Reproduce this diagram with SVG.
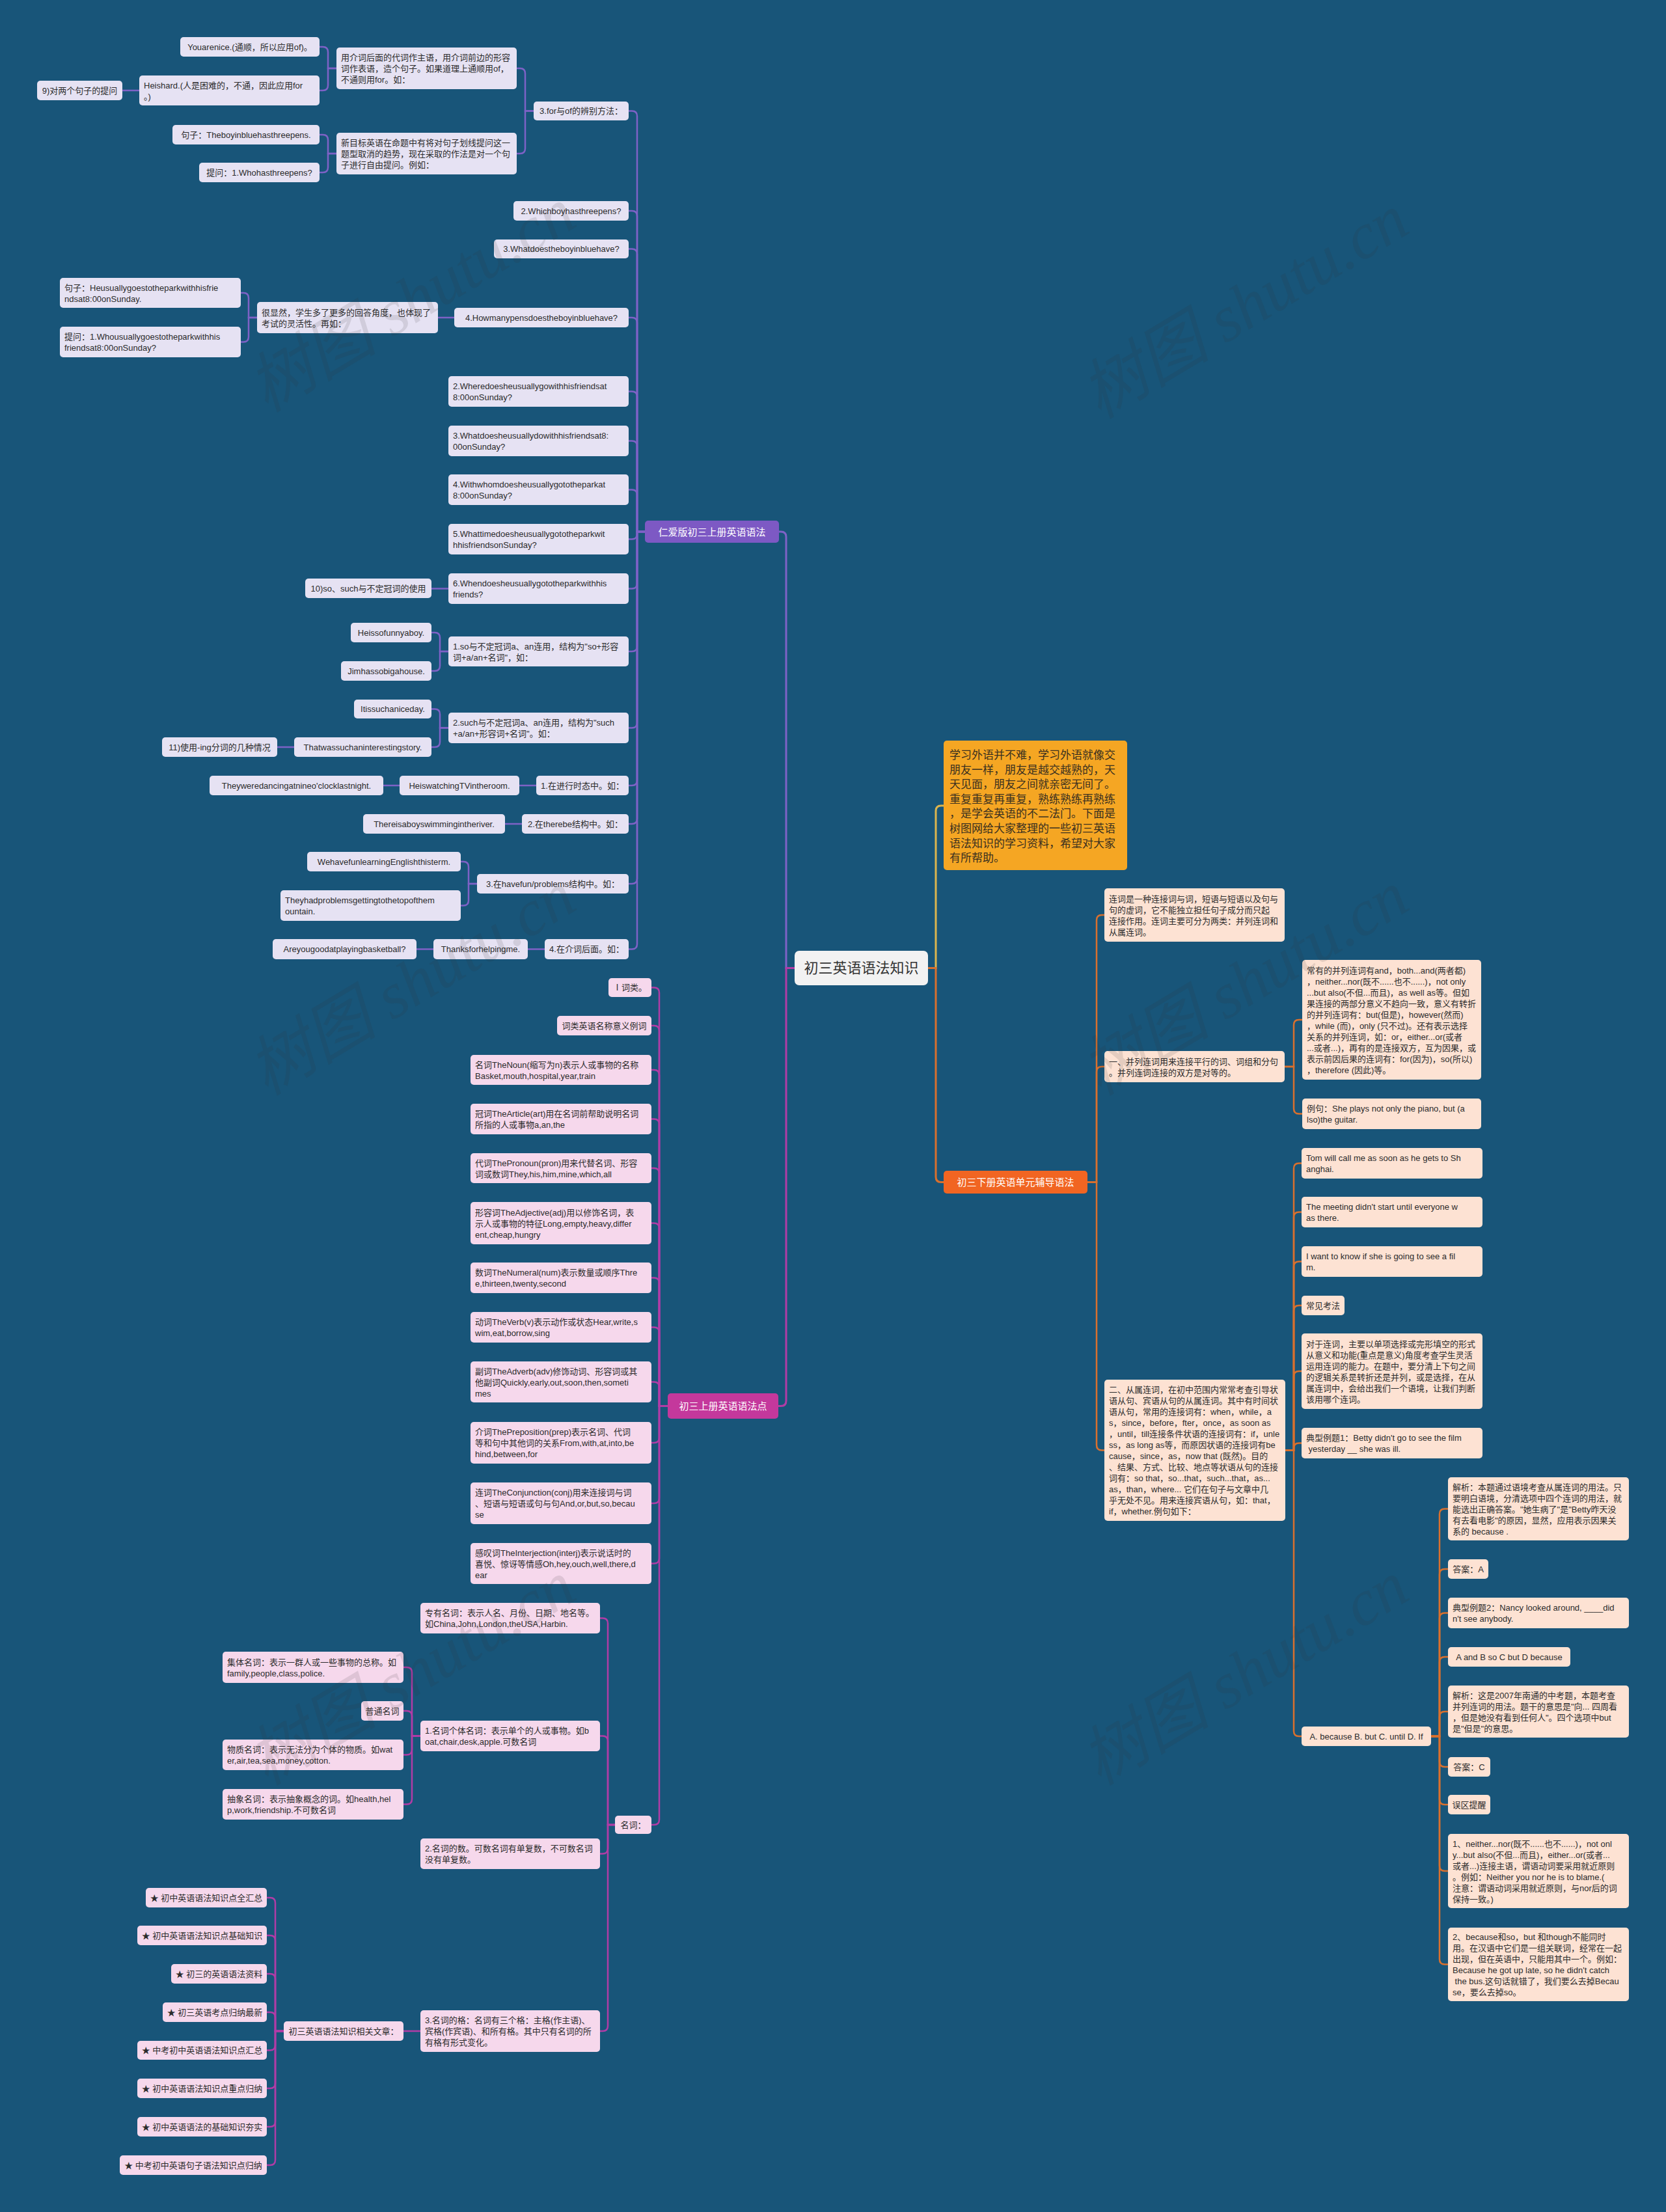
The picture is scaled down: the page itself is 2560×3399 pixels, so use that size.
<svg xmlns="http://www.w3.org/2000/svg" width="2560" height="3399" viewBox="0 0 2560 3399">
<style>
.t{font-family:"Liberation Sans","Noto Sans CJK SC",sans-serif;font-size:13px;fill:#2b2b2b;dominant-baseline:central}
.c{text-anchor:middle}
.pc{fill:#e6e2f3}
.mc{fill:#f6d8ec}
.oc{fill:#fde2d3}
.cp{stroke:#7e62c6;stroke-width:2.5;fill:none}
.cm{stroke:#b13ca6;stroke-width:2.5;fill:none}
.co{stroke:#d9702e;stroke-width:2.5;fill:none}
.cy{stroke:#dcb54e;stroke-width:3;fill:none}
.big{font-size:15px;fill:#ffffff}
.wm{font-family:"Liberation Serif","Noto Sans CJK SC",serif;font-size:100px;font-style:italic;fill:#333333;fill-opacity:0.12}
</style>
<rect width="2560" height="3399" fill="#185579"/>

<g id="connectors">
<g id="c-root">
<path class="cp" style="stroke-width:3" d="M1221 1487.5 H1208 V825 Q1208 817 1200 817 H1197"/>
<path class="cm" style="stroke-width:3" d="M1221 1487.5 H1208 V2152.5 Q1208 2160.5 1200 2160.5 H1196"/>
<path class="cy" d="M1426 1487.5 H1438 V1246 Q1438 1238 1446 1238 H1450"/>
<path class="co" style="stroke-width:3" d="M1426 1487.5 H1438 V1808.5 Q1438 1816.5 1446 1816.5 H1450"/>
</g>
<g id="c-purple">
<path class="cp" d="M991 817 H979 V178.5 Q979 170.5 971 170.5 H966"/>
<path class="cp" d="M991 817 H979 V332 Q979 324 971 324 H966"/>
<path class="cp" d="M991 817 H979 V390.5 Q979 382.5 971 382.5 H966"/>
<path class="cp" d="M991 817 H979 V496 Q979 488 971 488 H966"/>
<path class="cp" d="M991 817 H979 V609.5 Q979 601.5 971 601.5 H966"/>
<path class="cp" d="M991 817 H979 V685.5 Q979 677.5 971 677.5 H966"/>
<path class="cp" d="M991 817 H979 V760.5 Q979 752.5 971 752.5 H966"/>
<path class="cp" d="M991 817 H979 V820.5 Q979 828.5 971 828.5 H966"/>
<path class="cp" d="M991 817 H979 V896.5 Q979 904.5 971 904.5 H966"/>
<path class="cp" d="M991 817 H979 V993 Q979 1001 971 1001 H966"/>
<path class="cp" d="M991 817 H979 V1110.5 Q979 1118.5 971 1118.5 H966"/>
<path class="cp" d="M991 817 H979 V1199 Q979 1207 971 1207 H966"/>
<path class="cp" d="M991 817 H979 V1258 Q979 1266 971 1266 H966"/>
<path class="cp" d="M991 817 H979 V1350 Q979 1358 971 1358 H966"/>
<path class="cp" d="M991 817 H979 V1450.5 Q979 1458.5 971 1458.5 H966"/>
<path class="cp" d="M820 170.5 H807 V113 Q807 105 799 105 H794"/>
<path class="cp" d="M820 170.5 H807 V228 Q807 236 799 236 H794"/>
<path class="cp" d="M517 105 H504 V80 Q504 72 496 72 H491"/>
<path class="cp" d="M517 105 H504 V131 Q504 139 496 139 H491"/>
<path class="cp" d="M214 139 H188"/>
<path class="cp" d="M517 236 H504 V215 Q504 207 496 207 H491"/>
<path class="cp" d="M517 236 H504 V257 Q504 265 496 265 H491"/>
<path class="cp" d="M698 488 H673"/>
<path class="cp" d="M395 488 H382 V458 Q382 450 374 450 H370"/>
<path class="cp" d="M395 488 H382 V517.5 Q382 525.5 374 525.5 H370"/>
<path class="cp" d="M689 904.5 H663"/>
<path class="cp" d="M689 1001 H676 V980 Q676 972 668 972 H663"/>
<path class="cp" d="M689 1001 H676 V1023 Q676 1031 668 1031 H663"/>
<path class="cp" d="M689 1118.5 H676 V1097.5 Q676 1089.5 668 1089.5 H663"/>
<path class="cp" d="M689 1118.5 H676 V1140 Q676 1148 668 1148 H663"/>
<path class="cp" d="M452 1148 H426"/>
<path class="cp" d="M824 1207 H798"/>
<path class="cp" d="M614 1207 H589"/>
<path class="cp" d="M802 1266 H776"/>
<path class="cp" d="M733 1358 H720 V1332 Q720 1324 712 1324 H708"/>
<path class="cp" d="M733 1358 H720 V1383.5 Q720 1391.5 712 1391.5 H708"/>
<path class="cp" d="M837 1458.5 H811"/>
<path class="cp" d="M666 1458.5 H640"/>
</g>
<g id="c-magenta">
<path class="cm" d="M1026 2160.5 H1013 V1525.5 Q1013 1517.5 1005 1517.5 H1001"/>
<path class="cm" d="M1026 2160.5 H1013 V1584 Q1013 1576 1005 1576 H1001"/>
<path class="cm" d="M1026 2160.5 H1013 V1652 Q1013 1644 1005 1644 H1001"/>
<path class="cm" d="M1026 2160.5 H1013 V1727.5 Q1013 1719.5 1005 1719.5 H1001"/>
<path class="cm" d="M1026 2160.5 H1013 V1803 Q1013 1795 1005 1795 H1001"/>
<path class="cm" d="M1026 2160.5 H1013 V1887.5 Q1013 1879.5 1005 1879.5 H1001"/>
<path class="cm" d="M1026 2160.5 H1013 V1971.5 Q1013 1963.5 1005 1963.5 H1001"/>
<path class="cm" d="M1026 2160.5 H1013 V2047.5 Q1013 2039.5 1005 2039.5 H1001"/>
<path class="cm" d="M1026 2160.5 H1013 V2131.5 Q1013 2123.5 1005 2123.5 H1001"/>
<path class="cm" d="M1026 2160.5 H1013 V2209 Q1013 2217 1005 2217 H1001"/>
<path class="cm" d="M1026 2160.5 H1013 V2302 Q1013 2310 1005 2310 H1001"/>
<path class="cm" d="M1026 2160.5 H1013 V2394.5 Q1013 2402.5 1005 2402.5 H1001"/>
<path class="cm" d="M1026 2160.5 H1013 V2796 Q1013 2804 1005 2804 H1001"/>
<path class="cm" d="M945 2804 H934 V2494.5 Q934 2486.5 926 2486.5 H922"/>
<path class="cm" d="M945 2804 H934 V2675.5 Q934 2667.5 926 2667.5 H922"/>
<path class="cm" d="M945 2804 H934 V2840.5 Q934 2848.5 926 2848.5 H922"/>
<path class="cm" d="M945 2804 H934 V3113 Q934 3121 926 3121 H922"/>
<path class="cm" d="M646 2667.5 H633 V2570 Q633 2562 625 2562 H620"/>
<path class="cm" d="M646 2667.5 H633 V2637 Q633 2629 625 2629 H620"/>
<path class="cm" d="M646 2667.5 H633 V2688.5 Q633 2696.5 625 2696.5 H620"/>
<path class="cm" d="M646 2667.5 H633 V2764.5 Q633 2772.5 625 2772.5 H620"/>
<path class="cm" d="M646 3121 H620"/>
<path class="cm" d="M436 3121 H423 V2924 Q423 2916 415 2916 H410"/>
<path class="cm" d="M436 3121 H423 V2982 Q423 2974 415 2974 H410"/>
<path class="cm" d="M436 3121 H423 V3041 Q423 3033 415 3033 H410"/>
<path class="cm" d="M436 3121 H423 V3100 Q423 3092 415 3092 H410"/>
<path class="cm" d="M436 3121 H423 V3142.5 Q423 3150.5 415 3150.5 H410"/>
<path class="cm" d="M436 3121 H423 V3201 Q423 3209 415 3209 H410"/>
<path class="cm" d="M436 3121 H423 V3260 Q423 3268 415 3268 H410"/>
<path class="cm" d="M436 3121 H423 V3319 Q423 3327 415 3327 H410"/>
</g>
<g id="c-orange">
<path class="co" d="M1671 1816.5 H1685 V1414 Q1685 1406 1693 1406 H1697"/>
<path class="co" d="M1671 1816.5 H1685 V1647 Q1685 1639 1693 1639 H1697"/>
<path class="co" d="M1671 1816.5 H1685 V2220.5 Q1685 2228.5 1693 2228.5 H1697"/>
<path class="co" d="M1974 1639 H1988 V1575 Q1988 1567 1996 1567 H2001"/>
<path class="co" d="M1974 1639 H1988 V1703.5 Q1988 1711.5 1996 1711.5 H2001"/>
<path class="co" d="M1975 2228.5 H1988 V1795.5 Q1988 1787.5 1996 1787.5 H2000"/>
<path class="co" d="M1975 2228.5 H1988 V1870.5 Q1988 1862.5 1996 1862.5 H2000"/>
<path class="co" d="M1975 2228.5 H1988 V1946.5 Q1988 1938.5 1996 1938.5 H2000"/>
<path class="co" d="M1975 2228.5 H1988 V2014 Q1988 2006 1996 2006 H2000"/>
<path class="co" d="M1975 2228.5 H1988 V2115 Q1988 2107 1996 2107 H2000"/>
<path class="co" d="M1975 2228.5 H1988 V2225.5 Q1988 2217.5 1996 2217.5 H2000"/>
<path class="co" d="M1975 2228.5 H1988 V2660 Q1988 2668 1996 2668 H2000"/>
<path class="co" d="M2199 2668 H2212 V2326.5 Q2212 2318.5 2220 2318.5 H2225"/>
<path class="co" d="M2199 2668 H2212 V2419 Q2212 2411 2220 2411 H2225"/>
<path class="co" d="M2199 2668 H2212 V2486.5 Q2212 2478.5 2220 2478.5 H2225"/>
<path class="co" d="M2199 2668 H2212 V2554 Q2212 2546 2220 2546 H2225"/>
<path class="co" d="M2199 2668 H2212 V2638 Q2212 2630 2220 2630 H2225"/>
<path class="co" d="M2199 2668 H2212 V2707 Q2212 2715 2220 2715 H2225"/>
<path class="co" d="M2199 2668 H2212 V2765 Q2212 2773 2220 2773 H2225"/>
<path class="co" d="M2199 2668 H2212 V2867 Q2212 2875 2220 2875 H2225"/>
<path class="co" d="M2199 2668 H2212 V3010.5 Q2212 3018.5 2220 3018.5 H2225"/>
</g>
</g>

<g id="root"><rect x="1221" y="1461" width="205" height="53" rx="7" fill="#f2f2f2"/><text class="t c" x="1323.5" y="1487.5" style="font-size:22px;fill:#333">初三英语语法知识</text></g>

<g id="intro"><rect x="1450" y="1138" width="282" height="199" rx="5" fill="#f5a623"/>
<text class="t" style="font-size:17px;fill:#3a3020"><tspan x="1459" y="1160">学习外语并不难，学习外语就像交</tspan><tspan x="1459" y="1182.6">朋友一样，朋友是越交越熟的，天</tspan><tspan x="1459" y="1205.2">天见面，朋友之间就亲密无间了。</tspan><tspan x="1459" y="1227.8">重复重复再重复，熟练熟练再熟练</tspan><tspan x="1459" y="1250.4">，是学会英语的不二法门。下面是</tspan><tspan x="1459" y="1273">树图网给大家整理的一些初三英语</tspan><tspan x="1459" y="1295.6">语法知识的学习资料，希望对大家</tspan><tspan x="1459" y="1318.2">有所帮助。</tspan></text></g>

<g id="b-purple"><rect x="991" y="800" width="206" height="34" rx="5" fill="#7d59c4"/><text class="t c big" x="1094" y="817">仁爱版初三上册英语语法</text></g>
<g id="b-magenta"><rect x="1026" y="2141" width="170" height="39" rx="5" fill="#c4389c"/><text class="t c big" x="1111" y="2160.5">初三上册英语语法点</text></g>
<g id="b-orange"><rect x="1450" y="1799" width="221" height="35" rx="5" fill="#f16522"/><text class="t c big" x="1560.5" y="1816.5">初三下册英语单元辅导语法</text></g>

<g id="purple-nodes">
<g id="p1"><rect class="pc" x="820" y="156" width="146" height="29" rx="5"/><text class="t c" x="893" y="170.5">3.for与of的辨别方法：</text></g>
<g id="p2"><rect class="pc" x="789" y="309" width="177" height="30" rx="5"/><text class="t c" x="877.5" y="324">2.Whichboyhasthreepens?</text></g>
<g id="p3"><rect class="pc" x="759" y="368" width="207" height="29" rx="5"/><text class="t c" x="862.5" y="382.5">3.Whatdoestheboyinbluehave?</text></g>
<g id="p4"><rect class="pc" x="698" y="473" width="268" height="30" rx="5"/><text class="t c" x="832" y="488">4.Howmanypensdoestheboyinbluehave?</text></g>
<g id="p5"><rect class="pc" x="689" y="578" width="277" height="47" rx="5"/><text class="t"><tspan x="696" y="593">2.Wheredoesheusuallygowithhisfriendsat</tspan><tspan x="696" y="610">8:00onSunday?</tspan></text></g>
<g id="p6"><rect class="pc" x="689" y="654" width="277" height="47" rx="5"/><text class="t"><tspan x="696" y="669">3.Whatdoesheusuallydowithhisfriendsat8:</tspan><tspan x="696" y="686">00onSunday?</tspan></text></g>
<g id="p7"><rect class="pc" x="689" y="729" width="277" height="47" rx="5"/><text class="t"><tspan x="696" y="744">4.Withwhomdoesheusuallygototheparkat</tspan><tspan x="696" y="761">8:00onSunday?</tspan></text></g>
<g id="p8"><rect class="pc" x="689" y="805" width="277" height="47" rx="5"/><text class="t"><tspan x="696" y="820">5.Whattimedoesheusuallygototheparkwit</tspan><tspan x="696" y="837">hhisfriendsonSunday?</tspan></text></g>
<g id="p9"><rect class="pc" x="689" y="881" width="277" height="47" rx="5"/><text class="t"><tspan x="696" y="896">6.Whendoesheusuallygototheparkwithhis</tspan><tspan x="696" y="913">friends?</tspan></text></g>
<g id="p10"><rect class="pc" x="689" y="978" width="277" height="46" rx="5"/><text class="t"><tspan x="696" y="992.5">1.so与不定冠词a、an连用，结构为"so+形容</tspan><tspan x="696" y="1009.5">词+a/an+名词"，如：</tspan></text></g>
<g id="p11"><rect class="pc" x="689" y="1095" width="277" height="47" rx="5"/><text class="t"><tspan x="696" y="1110">2.such与不定冠词a、an连用，结构为"such</tspan><tspan x="696" y="1127">+a/an+形容词+名词"。如：</tspan></text></g>
<g id="p12"><rect class="pc" x="824" y="1192" width="142" height="30" rx="5"/><text class="t c" x="895" y="1207">1.在进行时态中。如：</text></g>
<g id="p13"><rect class="pc" x="802" y="1251" width="164" height="30" rx="5"/><text class="t c" x="884" y="1266">2.在therebe结构中。如：</text></g>
<g id="p14"><rect class="pc" x="733" y="1343" width="233" height="30" rx="5"/><text class="t c" x="849.5" y="1358">3.在havefun/problems结构中。如：</text></g>
<g id="p15"><rect class="pc" x="837" y="1443" width="129" height="31" rx="5"/><text class="t c" x="901.5" y="1458.5">4.在介词后面。如：</text></g>
<g id="pa"><rect class="pc" x="517" y="73" width="277" height="64" rx="5"/><text class="t"><tspan x="524" y="88">用介词后面的代词作主语，用介词前边的形容</tspan><tspan x="524" y="105">词作表语，造个句子。如果道理上通顺用of，</tspan><tspan x="524" y="122">不通则用for。如：</tspan></text></g>
<g id="pb"><rect class="pc" x="517" y="204" width="277" height="64" rx="5"/><text class="t"><tspan x="524" y="219">新目标英语在命题中有将对句子划线提问这一</tspan><tspan x="524" y="236">题型取消的趋势，现在采取的作法是对一个句</tspan><tspan x="524" y="253">子进行自由提问。例如：</tspan></text></g>
<g id="pc1"><rect class="pc" x="277" y="57" width="214" height="30" rx="5"/><text class="t c" x="384" y="72">Youarenice.(通顺，所以应用of)。</text></g>
<g id="pd"><rect class="pc" x="214" y="116" width="277" height="46" rx="5"/><text class="t"><tspan x="221" y="130.5">Heishard.(人是困难的，不通，因此应用for</tspan><tspan x="221" y="147.5">。)</tspan></text></g>
<g id="pe"><rect class="pc" x="57" y="124" width="131" height="30" rx="5"/><text class="t c" x="122.5" y="139">9)对两个句子的提问</text></g>
<g id="pf"><rect class="pc" x="265" y="192" width="226" height="30" rx="5"/><text class="t c" x="378" y="207">句子：Theboyinbluehasthreepens.</text></g>
<g id="pg"><rect class="pc" x="306" y="250" width="185" height="30" rx="5"/><text class="t c" x="398.5" y="265">提问：1.Whohasthreepens?</text></g>
<g id="ph"><rect class="pc" x="395" y="464" width="278" height="48" rx="5"/><text class="t"><tspan x="402" y="479.5">很显然，学生多了更多的回答角度，也体现了</tspan><tspan x="402" y="496.5">考试的灵活性。再如：</tspan></text></g>
<g id="pi"><rect class="pc" x="92" y="427" width="278" height="46" rx="5"/><text class="t"><tspan x="99" y="441.5">句子：Heusuallygoestotheparkwithhisfrie</tspan><tspan x="99" y="458.5">ndsat8:00onSunday.</tspan></text></g>
<g id="pj"><rect class="pc" x="92" y="502" width="278" height="47" rx="5"/><text class="t"><tspan x="99" y="517">提问：1.Whousuallygoestotheparkwithhis</tspan><tspan x="99" y="534">friendsat8:00onSunday?</tspan></text></g>
<g id="pk"><rect class="pc" x="469" y="889" width="194" height="30" rx="5"/><text class="t c" x="566" y="904">10)so、such与不定冠词的使用</text></g>
<g id="pl"><rect class="pc" x="539" y="957" width="124" height="30" rx="5"/><text class="t c" x="601" y="972">Heissofunnyaboy.</text></g>
<g id="pm"><rect class="pc" x="524" y="1016" width="139" height="30" rx="5"/><text class="t c" x="593.5" y="1031">Jimhassobigahouse.</text></g>
<g id="pn"><rect class="pc" x="544" y="1075" width="119" height="29" rx="5"/><text class="t c" x="603.5" y="1089.5">Itissuchaniceday.</text></g>
<g id="po"><rect class="pc" x="452" y="1133" width="211" height="30" rx="5"/><text class="t c" x="557.5" y="1148">Thatwassuchaninterestingstory.</text></g>
<g id="pp"><rect class="pc" x="249" y="1133" width="177" height="30" rx="5"/><text class="t c" x="337.5" y="1148">11)使用-ing分词的几种情况</text></g>
<g id="pq"><rect class="pc" x="614" y="1192" width="184" height="30" rx="5"/><text class="t c" x="706" y="1207">HeiswatchingTVintheroom.</text></g>
<g id="pr"><rect class="pc" x="322" y="1192" width="267" height="30" rx="5"/><text class="t c" x="455.5" y="1207">Theyweredancingatnineo'clocklastnight.</text></g>
<g id="ps"><rect class="pc" x="558" y="1251" width="218" height="30" rx="5"/><text class="t c" x="667" y="1266">Thereisaboyswimmingintheriver.</text></g>
<g id="pt"><rect class="pc" x="472" y="1309" width="236" height="30" rx="5"/><text class="t c" x="590" y="1324">WehavefunlearningEnglishthisterm.</text></g>
<g id="pu"><rect class="pc" x="431" y="1368" width="277" height="47" rx="5"/><text class="t"><tspan x="438" y="1383">Theyhadproblemsgettingtothetopofthem</tspan><tspan x="438" y="1400">ountain.</tspan></text></g>
<g id="pv"><rect class="pc" x="666" y="1443" width="145" height="31" rx="5"/><text class="t c" x="738.5" y="1458.5">Thanksforhelpingme.</text></g>
<g id="pw"><rect class="pc" x="419" y="1443" width="221" height="31" rx="5"/><text class="t c" x="529.5" y="1458.5">Areyougoodatplayingbasketball?</text></g>
</g>

<g id="magenta-nodes">
<g id="m1"><rect class="mc" x="935" y="1503" width="66" height="29" rx="5"/><text class="t c" x="968" y="1517.5">Ⅰ词类。</text></g>
<g id="m2"><rect class="mc" x="856" y="1561" width="145" height="30" rx="5"/><text class="t c" x="928.5" y="1576">词类英语名称意义例词</text></g>
<g id="m3"><rect class="mc" x="723" y="1621" width="278" height="46" rx="5"/><text class="t"><tspan x="730" y="1635.5">名词TheNoun(缩写为n)表示人或事物的名称</tspan><tspan x="730" y="1652.5">Basket,mouth,hospital,year,train</tspan></text></g>
<g id="m4"><rect class="mc" x="723" y="1696" width="278" height="47" rx="5"/><text class="t"><tspan x="730" y="1711">冠词TheArticle(art)用在名词前帮助说明名词</tspan><tspan x="730" y="1728">所指的人或事物a,an,the</tspan></text></g>
<g id="m5"><rect class="mc" x="723" y="1772" width="278" height="46" rx="5"/><text class="t"><tspan x="730" y="1786.5">代词ThePronoun(pron)用来代替名词、形容</tspan><tspan x="730" y="1803.5">词或数词They,his,him,mine,which,all</tspan></text></g>
<g id="m6"><rect class="mc" x="723" y="1847" width="278" height="65" rx="5"/><text class="t"><tspan x="730" y="1862.5">形容词TheAdjective(adj)用以修饰名词，表</tspan><tspan x="730" y="1879.5">示人或事物的特征Long,empty,heavy,differ</tspan><tspan x="730" y="1896.5">ent,cheap,hungry</tspan></text></g>
<g id="m7"><rect class="mc" x="723" y="1940" width="278" height="47" rx="5"/><text class="t"><tspan x="730" y="1955">数词TheNumeral(num)表示数量或顺序Thre</tspan><tspan x="730" y="1972">e,thirteen,twenty,second</tspan></text></g>
<g id="m8"><rect class="mc" x="723" y="2016" width="278" height="47" rx="5"/><text class="t"><tspan x="730" y="2031">动词TheVerb(v)表示动作或状态Hear,write,s</tspan><tspan x="730" y="2048">wim,eat,borrow,sing</tspan></text></g>
<g id="m9"><rect class="mc" x="723" y="2092" width="278" height="63" rx="5"/><text class="t"><tspan x="730" y="2106.5">副词TheAdverb(adv)修饰动词、形容词或其</tspan><tspan x="730" y="2123.5">他副词Quickly,early,out,soon,then,someti</tspan><tspan x="730" y="2140.5">mes</tspan></text></g>
<g id="m10"><rect class="mc" x="723" y="2185" width="278" height="64" rx="5"/><text class="t"><tspan x="730" y="2200">介词ThePreposition(prep)表示名词、代词</tspan><tspan x="730" y="2217">等和句中其他词的关系From,with,at,into,be</tspan><tspan x="730" y="2234">hind,between,for</tspan></text></g>
<g id="m11"><rect class="mc" x="723" y="2278" width="278" height="64" rx="5"/><text class="t"><tspan x="730" y="2293">连词TheConjunction(conj)用来连接词与词</tspan><tspan x="730" y="2310">、短语与短语或句与句And,or,but,so,becau</tspan><tspan x="730" y="2327">se</tspan></text></g>
<g id="m12"><rect class="mc" x="723" y="2371" width="278" height="63" rx="5"/><text class="t"><tspan x="730" y="2385.5">感叹词TheInterjection(interj)表示说话时的</tspan><tspan x="730" y="2402.5">喜悦、惊讶等情感Oh,hey,ouch,well,there,d</tspan><tspan x="730" y="2419.5">ear</tspan></text></g>
<g id="m13"><rect class="mc" x="945" y="2790" width="56" height="28" rx="5"/><text class="t c" x="973" y="2804">名词：</text></g>
<g id="na"><rect class="mc" x="646" y="2463" width="276" height="47" rx="5"/><text class="t"><tspan x="653" y="2478">专有名词：表示人名、月份、日期、地名等。</tspan><tspan x="653" y="2495">如China,John,London,theUSA,Harbin.</tspan></text></g>
<g id="nb"><rect class="mc" x="646" y="2644" width="276" height="47" rx="5"/><text class="t"><tspan x="653" y="2659">1.名词个体名词：表示单个的人或事物。如b</tspan><tspan x="653" y="2676">oat,chair,desk,apple.可数名词</tspan></text></g>
<g id="nc"><rect class="mc" x="646" y="2825" width="276" height="47" rx="5"/><text class="t"><tspan x="653" y="2840">2.名词的数。可数名词有单复数，不可数名词</tspan><tspan x="653" y="2857">没有单复数。</tspan></text></g>
<g id="nd"><rect class="mc" x="646" y="3089" width="276" height="64" rx="5"/><text class="t"><tspan x="653" y="3104">3.名词的格：名词有三个格：主格(作主语)、</tspan><tspan x="653" y="3121">宾格(作宾语)、和所有格。其中只有名词的所</tspan><tspan x="653" y="3138">有格有形式变化。</tspan></text></g>
<g id="ne"><rect class="mc" x="342" y="2538" width="278" height="48" rx="5"/><text class="t"><tspan x="349" y="2553.5">集体名词：表示一群人或一些事物的总称。如</tspan><tspan x="349" y="2570.5">family,people,class,police.</tspan></text></g>
<g id="nf"><rect class="mc" x="555" y="2614" width="65" height="30" rx="5"/><text class="t c" x="587.5" y="2629">普通名词</text></g>
<g id="ng"><rect class="mc" x="342" y="2673" width="278" height="47" rx="5"/><text class="t"><tspan x="349" y="2688">物质名词：表示无法分为个体的物质。如wat</tspan><tspan x="349" y="2705">er,air,tea,sea,money,cotton.</tspan></text></g>
<g id="nh"><rect class="mc" x="342" y="2749" width="278" height="47" rx="5"/><text class="t"><tspan x="349" y="2764">抽象名词：表示抽象概念的词。如health,hel</tspan><tspan x="349" y="2781">p,work,friendship.不可数名词</tspan></text></g>
<g id="ni"><rect class="mc" x="436" y="3106" width="184" height="30" rx="5"/><text class="t c" x="528" y="3121">初三英语语法知识相关文章：</text></g>
<g id="s1"><rect class="mc" x="224" y="2901" width="186" height="30" rx="5"/><text class="t c" x="317" y="2916">★ 初中英语语法知识点全汇总</text></g>
<g id="s2"><rect class="mc" x="211" y="2959" width="199" height="30" rx="5"/><text class="t c" x="310.5" y="2974">★ 初中英语语法知识点基础知识</text></g>
<g id="s3"><rect class="mc" x="263" y="3018" width="147" height="30" rx="5"/><text class="t c" x="336.5" y="3033">★ 初三的英语语法资料</text></g>
<g id="s4"><rect class="mc" x="250" y="3077" width="160" height="30" rx="5"/><text class="t c" x="330" y="3092">★ 初三英语考点归纳最新</text></g>
<g id="s5"><rect class="mc" x="211" y="3136" width="199" height="29" rx="5"/><text class="t c" x="310.5" y="3150.5">★ 中考初中英语语法知识点汇总</text></g>
<g id="s6"><rect class="mc" x="211" y="3194" width="199" height="30" rx="5"/><text class="t c" x="310.5" y="3209">★ 初中英语语法知识点重点归纳</text></g>
<g id="s7"><rect class="mc" x="211" y="3253" width="199" height="30" rx="5"/><text class="t c" x="310.5" y="3268">★ 初中英语语法的基础知识夯实</text></g>
<g id="s8"><rect class="mc" x="184" y="3312" width="226" height="30" rx="5"/><text class="t c" x="297" y="3327">★ 中考初中英语句子语法知识点归纳</text></g>
</g>

<g id="orange-nodes">
<g id="o1"><rect class="oc" x="1697" y="1365" width="277" height="82" rx="5"/><text class="t"><tspan x="1704" y="1380.5">连词是一种连接词与词，短语与短语以及句与</tspan><tspan x="1704" y="1397.5">句的虚词，它不能独立担任句子成分而只起</tspan><tspan x="1704" y="1414.5">连接作用。连词主要可分为两类：并列连词和</tspan><tspan x="1704" y="1431.5">从属连词。</tspan></text></g>
<g id="o2"><rect class="oc" x="1697" y="1615" width="277" height="48" rx="5"/><text class="t"><tspan x="1704" y="1630.5">一、并列连词用来连接平行的词、词组和分句</tspan><tspan x="1704" y="1647.5">。并列连词连接的双方是对等的。</tspan></text></g>
<g id="o3"><rect class="oc" x="1697" y="2120" width="278" height="217" rx="5"/><text class="t"><tspan x="1704" y="2135">二、从属连词，在初中范围内常常考查引导状</tspan><tspan x="1704" y="2152">语从句、宾语从句的从属连词。其中有时间状</tspan><tspan x="1704" y="2169">语从句，常用的连接词有：when，while，a</tspan><tspan x="1704" y="2186">s，since，before，fter，once，as soon as</tspan><tspan x="1704" y="2203">，until，till连接条件状语的连接词有：if，unle</tspan><tspan x="1704" y="2220">ss，as long as等，而原因状语的连接词有be</tspan><tspan x="1704" y="2237">cause，since，as，now that (既然)。目的</tspan><tspan x="1704" y="2254">、结果、方式、比较、地点等状语从句的连接</tspan><tspan x="1704" y="2271">词有：so that，so...that，such...that，as...</tspan><tspan x="1704" y="2288">as，than，where... 它们在句子与文章中几</tspan><tspan x="1704" y="2305">乎无处不见。用来连接宾语从句，如：that，</tspan><tspan x="1704" y="2322">if，whether.例句如下：</tspan></text></g>
<g id="od1"><rect class="oc" x="2001" y="1475" width="275" height="184" rx="5"/><text class="t"><tspan x="2008" y="1490.5">常有的并列连词有and，both...and(两者都)</tspan><tspan x="2008" y="1507.5">，neither...nor(既不......也不......)，not only</tspan><tspan x="2008" y="1524.5">...but also(不但...而且)，as well as等。但如</tspan><tspan x="2008" y="1541.5">果连接的两部分意义不趋向一致，意义有转折</tspan><tspan x="2008" y="1558.5">的并列连词有：but(但是)，however(然而)</tspan><tspan x="2008" y="1575.5">，while (而)，only (只不过)。还有表示选择</tspan><tspan x="2008" y="1592.5">关系的并列连词，如：or，either...or(或者</tspan><tspan x="2008" y="1609.5">...或者...)，再有的是连接双方，互为因果，或</tspan><tspan x="2008" y="1626.5">表示前因后果的连词有：for(因为)，so(所以)</tspan><tspan x="2008" y="1643.5">，therefore (因此)等。</tspan></text></g>
<g id="od2"><rect class="oc" x="2001" y="1688" width="275" height="47" rx="5"/><text class="t"><tspan x="2008" y="1703">例句：She plays not only the piano, but (a</tspan><tspan x="2008" y="1720">lso)the guitar.</tspan></text></g>
<g id="oe1"><rect class="oc" x="2000" y="1764" width="278" height="47" rx="5"/><text class="t"><tspan x="2007" y="1779">Tom will call me as soon as he gets to Sh</tspan><tspan x="2007" y="1796">anghai.</tspan></text></g>
<g id="oe2"><rect class="oc" x="2000" y="1839" width="278" height="47" rx="5"/><text class="t"><tspan x="2007" y="1854">The meeting didn't start until everyone w</tspan><tspan x="2007" y="1871">as there.</tspan></text></g>
<g id="oe3"><rect class="oc" x="2000" y="1915" width="278" height="47" rx="5"/><text class="t"><tspan x="2007" y="1930">I want to know if she is going to see a fil</tspan><tspan x="2007" y="1947">m.</tspan></text></g>
<g id="oe4"><rect class="oc" x="2000" y="1991" width="66" height="30" rx="5"/><text class="t c" x="2033" y="2006">常见考法</text></g>
<g id="oe5"><rect class="oc" x="2000" y="2049" width="278" height="116" rx="5"/><text class="t"><tspan x="2007" y="2064.5">对于连词，主要以单项选择或完形填空的形式</tspan><tspan x="2007" y="2081.5">从意义和功能(重点是意义)角度考查学生灵活</tspan><tspan x="2007" y="2098.5">运用连词的能力。在题中，要分清上下句之间</tspan><tspan x="2007" y="2115.5">的逻辑关系是转折还是并列，或是选择，在从</tspan><tspan x="2007" y="2132.5">属连词中，会给出我们一个语境，让我们判断</tspan><tspan x="2007" y="2149.5">该用哪个连词。</tspan></text></g>
<g id="oe6"><rect class="oc" x="2000" y="2194" width="278" height="47" rx="5"/><text class="t"><tspan x="2007" y="2209">典型例题1：Betty didn't go to see the film</tspan><tspan x="2007" y="2226"> yesterday __ she was ill.</tspan></text></g>
<g id="oe7"><rect class="oc" x="2000" y="2653" width="199" height="30" rx="5"/><text class="t c" x="2099.5" y="2668">A. because B. but C. until D. If</text></g>
<g id="of1"><rect class="oc" x="2225" y="2270" width="278" height="97" rx="5"/><text class="t"><tspan x="2232" y="2284.5">解析：本题通过语境考查从属连词的用法。只</tspan><tspan x="2232" y="2301.5">要明白语境，分清选项中四个连词的用法，就</tspan><tspan x="2232" y="2318.5">能选出正确答案。"她生病了"是"Betty昨天没</tspan><tspan x="2232" y="2335.5">有去看电影"的原因，显然，应用表示因果关</tspan><tspan x="2232" y="2352.5">系的 because .</tspan></text></g>
<g id="of2"><rect class="oc" x="2225" y="2396" width="62" height="30" rx="5"/><text class="t c" x="2256" y="2411">答案：A</text></g>
<g id="of3"><rect class="oc" x="2225" y="2455" width="278" height="47" rx="5"/><text class="t"><tspan x="2232" y="2470">典型例题2：Nancy looked around, ____did</tspan><tspan x="2232" y="2487">n't see anybody.</tspan></text></g>
<g id="of4"><rect class="oc" x="2225" y="2531" width="188" height="30" rx="5"/><text class="t c" x="2319" y="2546">A and B so C but D because</text></g>
<g id="of5"><rect class="oc" x="2225" y="2590" width="278" height="80" rx="5"/><text class="t"><tspan x="2232" y="2604.5">解析：这是2007年南通的中考题，本题考查</tspan><tspan x="2232" y="2621.5">并列连词的用法。题干的意思是"向... 四周看</tspan><tspan x="2232" y="2638.5">，但是她没有看到任何人"。四个选项中but</tspan><tspan x="2232" y="2655.5">是"但是"的意思。</tspan></text></g>
<g id="of6"><rect class="oc" x="2225" y="2700" width="65" height="30" rx="5"/><text class="t c" x="2257.5" y="2715">答案：C</text></g>
<g id="of7"><rect class="oc" x="2225" y="2758" width="65" height="30" rx="5"/><text class="t c" x="2257.5" y="2773">误区提醒</text></g>
<g id="of8"><rect class="oc" x="2225" y="2818" width="278" height="114" rx="5"/><text class="t"><tspan x="2232" y="2832.5">1、neither...nor(既不......也不......)，not onl</tspan><tspan x="2232" y="2849.5">y...but also(不但...而且)，either...or(或者...</tspan><tspan x="2232" y="2866.5">或者...)连接主语，谓语动词要采用就近原则</tspan><tspan x="2232" y="2883.5">。例如：Neither you nor he is to blame.(</tspan><tspan x="2232" y="2900.5">注意：谓语动词采用就近原则，与nor后的词</tspan><tspan x="2232" y="2917.5">保持一致。)</tspan></text></g>
<g id="of9"><rect class="oc" x="2225" y="2962" width="278" height="113" rx="5"/><text class="t"><tspan x="2232" y="2976">2、because和so，but 和though不能同时</tspan><tspan x="2232" y="2993">用。在汉语中它们是一组关联词，经常在一起</tspan><tspan x="2232" y="3010">出现，但在英语中，只能用其中一个。例如：</tspan><tspan x="2232" y="3027">Because he got up late, so he didn't catch</tspan><tspan x="2232" y="3044"> the bus.这句话就错了，我们要么去掉Becau</tspan><tspan x="2232" y="3061">se，要么去掉so。</tspan></text></g>
</g>

<g id="watermarks">
<text class="wm" transform="translate(650 490) rotate(-31)" text-anchor="middle">树图 shutu.cn</text>
<text class="wm" transform="translate(1930 500) rotate(-31)" text-anchor="middle">树图 shutu.cn</text>
<text class="wm" transform="translate(650 1540) rotate(-31)" text-anchor="middle">树图 shutu.cn</text>
<text class="wm" transform="translate(1930 1540) rotate(-31)" text-anchor="middle">树图 shutu.cn</text>
<text class="wm" transform="translate(650 2600) rotate(-31)" text-anchor="middle">树图 shutu.cn</text>
<text class="wm" transform="translate(1930 2600) rotate(-31)" text-anchor="middle">树图 shutu.cn</text>
</g>
</svg>
